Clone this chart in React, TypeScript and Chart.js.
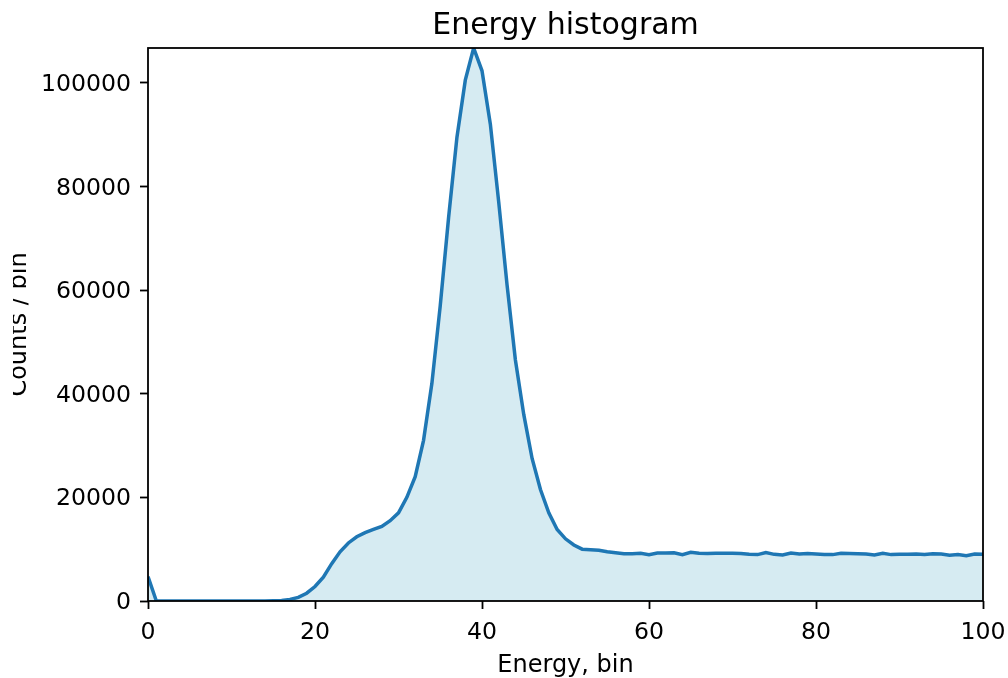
import React, { useEffect, useRef } from "react";
import { Chart, registerables } from "chart.js";

Chart.register(...registerables);

const TITLE = "Energy histogram";
const X_LABEL = "Energy, bin";
const Y_LABEL = "Counts / bin";

const energyBins: number[] = Array.from({ length: 101 }, (_, i) => i);

const counts: number[] = [
  4700, 0, 0, 0, 0, 0, 0, 0, 0, 0,
  0, 0, 0, 0, 20, 50, 100, 300, 700, 1500,
  2800, 4600, 7200, 9500, 11200, 12400, 13200, 13800, 14400, 15500,
  17000, 20000, 24000, 31000, 42000, 57000, 74000, 89500, 100500, 106700,
  102300, 92000, 77000, 61000, 46500, 36000, 27500, 21500, 17000, 13800,
  12000, 10800, 10000, 9900, 9800, 9500, 9300, 9100, 9100, 9200,
  8950, 9250, 9250, 9300, 8950, 9400, 9200, 9150, 9200, 9200,
  9200, 9150, 9000, 8950, 9350, 9000, 8900, 9250, 9050, 9150,
  9050, 8950, 8950, 9200, 9150, 9100, 9050, 8900, 9200, 8950,
  9000, 9000, 9050, 8950, 9100, 9050, 8850, 8950, 8750, 9050,
  9000,
];

const xTicks: number[] = [0, 20, 40, 60, 80, 100];
const yTicks: number[] = [0, 20000, 40000, 60000, 80000, 100000];
const X_MIN = 0;
const X_MAX = 100;
const Y_MIN = 0;
const Y_MAX = 106700;

const FONT = "DejaVu Sans";

const framePlugin = {
  id: "frame",
  afterDraw(chart: any) {
    const { ctx, chartArea } = chart;
    ctx.save();
    ctx.strokeStyle = "#000";
    ctx.lineWidth = 1.8;
    ctx.strokeRect(
      chartArea.left,
      chartArea.top,
      chartArea.right - chartArea.left,
      chartArea.bottom - chartArea.top
    );
    ctx.restore();
  },
};

export default function App() {
  const ref = useRef<HTMLCanvasElement | null>(null);

  useEffect(() => {
    if (!ref.current) return;
    Chart.defaults.color = "#000";
    const chart = new Chart(ref.current, {
      type: "line",
      data: {
        datasets: [
          {
            data: energyBins.map((x, i) => ({ x, y: counts[i] })),
            borderColor: "#1f77b4",
            borderWidth: 3.5,
            backgroundColor: "rgba(173,216,230,0.5)",
            fill: "origin",
            pointRadius: 0,
            tension: 0,
          },
        ],
      },
      options: {
        animation: false,
        responsive: false,
        layout: { padding: { left: 0, right: 25, top: 0, bottom: 0 } },
        plugins: {
          legend: { display: false },
          tooltip: { enabled: false },
          title: {
            display: true,
            fullSize: false,
            text: TITLE,
            color: "#000",
            font: { family: FONT, size: 30, weight: "normal", lineHeight: 1.2 },
            padding: { top: 8, bottom: 4 },
          },
        },
        scales: {
          x: {
            type: "linear",
            min: X_MIN,
            max: X_MAX,
            afterBuildTicks: (scale: any) => {
              scale.ticks = xTicks.map((v) => ({ value: v }));
            },
            afterFit: (scale: any) => {
              scale.height = 77;
              scale.paddingRight = 0;
              scale.paddingLeft = 0;
            },
            ticks: {
              color: "#000",
              font: { family: FONT, size: 23.6 },
              padding: 9.4,
              maxRotation: 0,
              callback: (v: any) => String(v),
            },
            grid: {
              display: true,
              drawOnChartArea: false,
              drawTicks: true,
              tickLength: 8,
              tickWidth: 1.8,
              tickColor: "#000",
              color: "#000",
            },
            border: { display: false },
            title: {
              display: true,
              text: X_LABEL,
              color: "#000",
              font: { family: FONT, size: 24, lineHeight: 1 },
              padding: { top: 0, bottom: 0.1 },
            },
          },
          y: {
            type: "linear",
            min: Y_MIN,
            max: Y_MAX,
            afterBuildTicks: (scale: any) => {
              scale.ticks = yTicks.map((v) => ({ value: v }));
            },
            afterFit: (scale: any) => {
              scale.width = 135;
            },
            ticks: {
              color: "#000",
              font: { family: FONT, size: 23.6 },
              padding: 9,
              labelOffset: 2,
              callback: (v: any) => String(v),
            },
            grid: {
              display: true,
              drawOnChartArea: false,
              drawTicks: true,
              tickLength: 8,
              tickWidth: 1.8,
              tickColor: "#000",
              color: "#000",
            },
            border: { display: false },
            title: {
              display: true,
              text: Y_LABEL,
              color: "#000",
              font: { family: FONT, size: 24, lineHeight: 0.5 },
              padding: { top: 0.9, bottom: 0 },
            },
          },
        },
      },
      plugins: [framePlugin],
    });
    return () => chart.destroy();
  }, []);

  return (
    <div
      style={{
        position: "fixed",
        left: 0,
        top: 0,
        width: 1008,
        height: 678,
        background: "#fff",
        overflow: "hidden",
      }}
    >
      <canvas
        ref={ref}
        width={995}
        height={678}
        style={{ position: "absolute", left: 13, top: 0, width: 995, height: 678 }}
      />
    </div>
  );
}
